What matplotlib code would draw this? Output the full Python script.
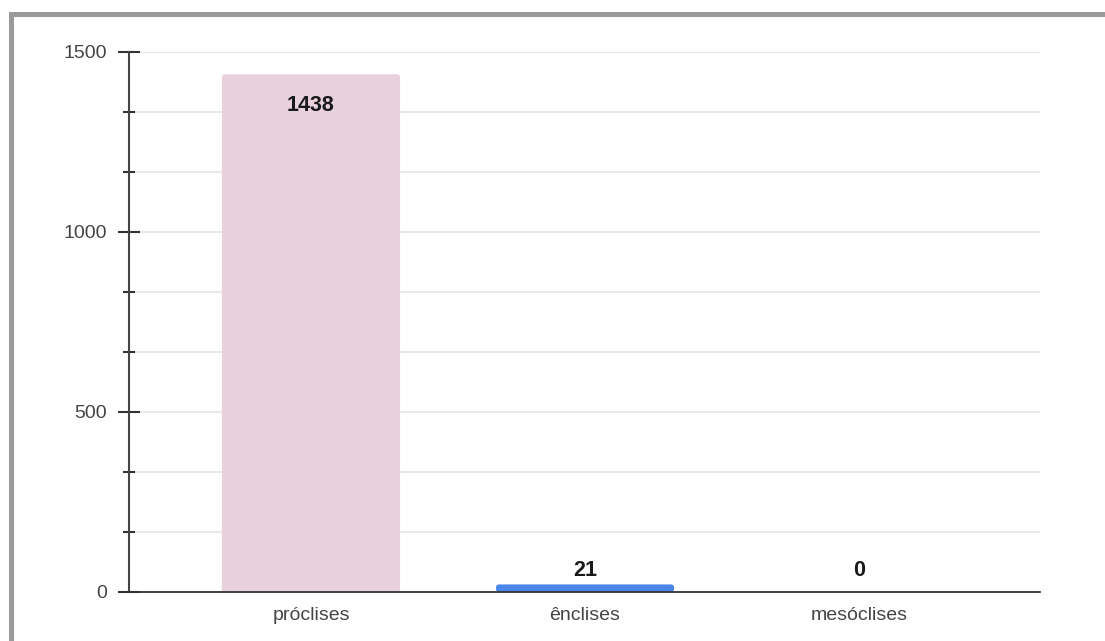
import matplotlib
matplotlib.use("Agg")
import matplotlib.pyplot as plt
from matplotlib.patches import FancyBboxPatch, Rectangle
from matplotlib.ticker import MultipleLocator

categories = ["próclises", "ênclises", "mesóclises"]
values = [1438, 21, 0]
bar_colors = ["#e8d1dc", "#4a86e8", "#4a86e8"]
y_major = [0, 500, 1000, 1500]

plt.rcParams['font.family'] = ['Liberation Sans', 'DejaVu Sans']

fig = plt.figure(figsize=(11.05, 6.41), dpi=100)
fig.patch.set_facecolor("white")

# gray frame (top and left edges)
fig.add_artist(Rectangle((9/1105, 0), 5/1105, 1 - 12/641, transform=fig.transFigure,
                         facecolor="#9a9a9a", edgecolor="none"))
fig.add_artist(Rectangle((9/1105, 1 - 17/641), 1 - 9/1105, 5/641, transform=fig.transFigure,
                         facecolor="#9a9a9a", edgecolor="none"))

ax = fig.add_axes([129/1105, 1 - 592/641, (1040 - 129)/1105, (592 - 52)/641])
ax.set_xlim(-0.664, 2.66)
ax.set_ylim(0, 1500)

x = list(range(len(categories)))
bars = ax.bar(x, values, width=0.65, color=bar_colors, zorder=2)

# replace with slightly rounded bars
px_x = (2.66 + 0.664) / (1040 - 129)
px_y = 1500 / (592 - 52)
r = 3 * px_x
asp = px_y / px_x
for rect, c in zip(bars, bar_colors):
    rect.set_visible(False)
    h = rect.get_height()
    if h <= 0:
        continue
    fb = FancyBboxPatch((rect.get_x(), rect.get_y()), rect.get_width(), h,
                        boxstyle=f"round,pad=0,rounding_size={r}",
                        mutation_aspect=asp, facecolor=c, edgecolor="none", zorder=2)
    ax.add_patch(fb)

# label values
for xi, v in zip(x, values):
    if v > 200:
        ax.text(xi, v - 57, f"{v}", ha="center", va="top", fontsize=15.5,
                fontweight="bold", color="#1a1a1a", zorder=3)
    else:
        ax.text(xi, max(v, 21) + 9, f"{v}", ha="center", va="bottom", fontsize=15.5,
                fontweight="bold", color="#1a1a1a", zorder=3)

ax.set_xticks(x)
ax.set_xticklabels(categories, fontsize=14, color="#444444")
ax.yaxis.set_minor_locator(MultipleLocator(500/3))
ax.set_yticks(y_major)
ax.set_yticklabels([str(v) for v in y_major], fontsize=14, color="#444444")

ax.grid(True, axis="y", which="both", color="#e4e4e4", linewidth=1.2, zorder=0)
ax.set_axisbelow(True)
ax.tick_params(axis="x", length=0, pad=11)
ax.tick_params(axis="y", which="major", direction="inout", length=16, width=1.5,
               color="#333333", pad=8)
ax.tick_params(axis="y", which="minor", direction="inout", length=9, width=1.5,
               color="#333333")

for side in ["top", "right"]:
    ax.spines[side].set_visible(False)
ax.spines["left"].set_color("#444444")
ax.spines["left"].set_linewidth(1.5)
ax.spines["bottom"].set_color("#333333")
ax.spines["bottom"].set_linewidth(1.3)

fig.savefig("out.png", dpi=100, facecolor="white")
